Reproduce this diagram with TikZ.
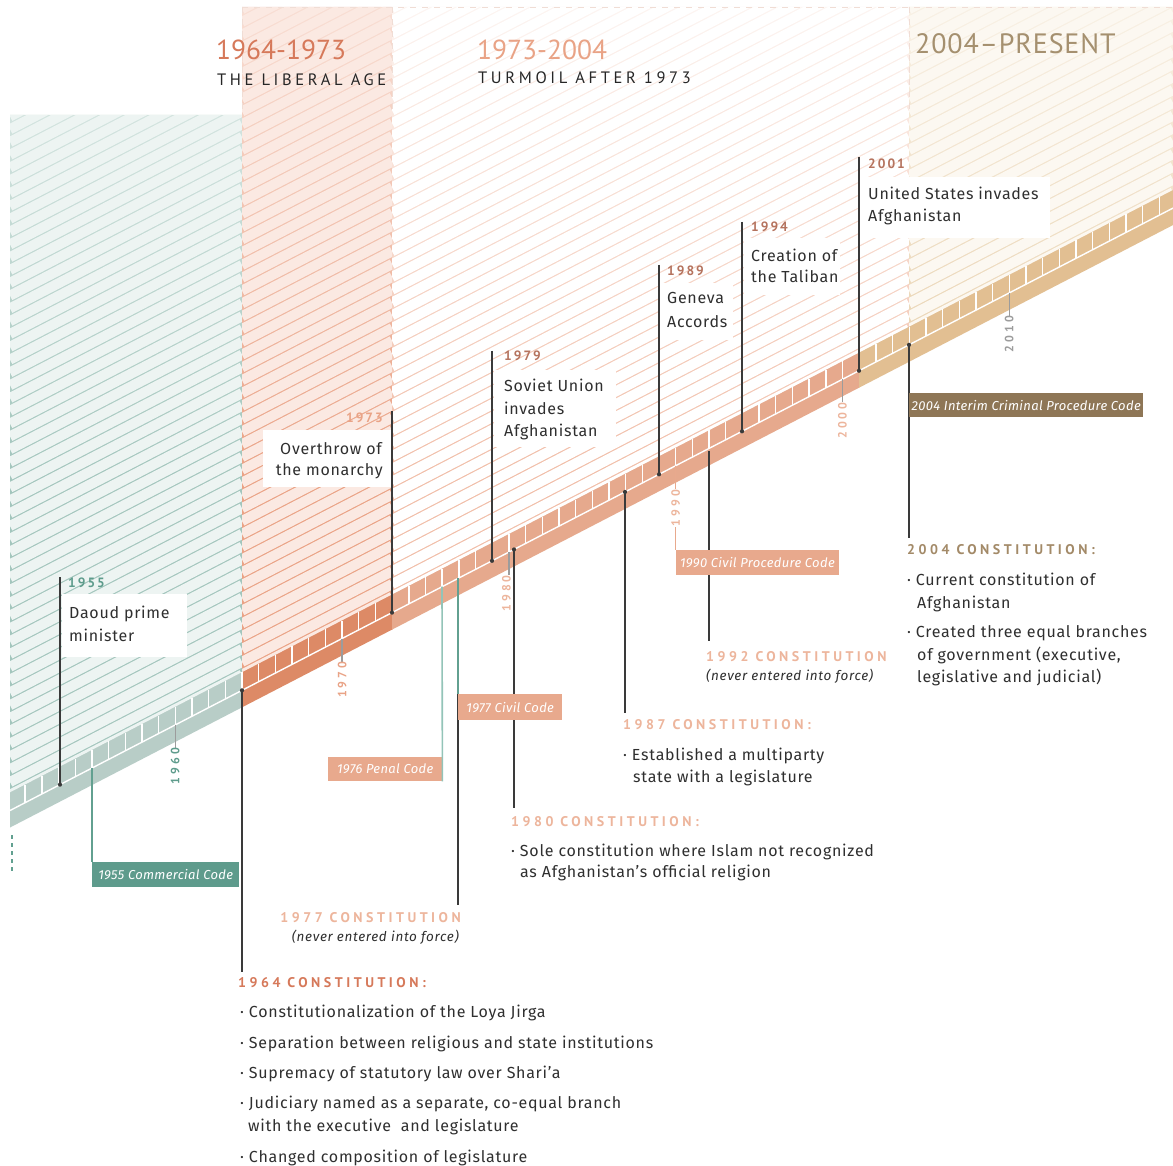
\documentclass[tikz,border=0pt]{standalone}
\usepackage{fontspec}
\setmainfont{PT Sans}
\newfontfamily\fira{Fira Sans}
\definecolor{txt}{HTML}{2F2F2F}
\definecolor{evline}{HTML}{3A3A3A}
\definecolor{tealBand}{HTML}{B8CDC7}
\definecolor{tealBg}{HTML}{EDF4F2}
\definecolor{tealHatch}{HTML}{A3C6BD}
\definecolor{tealBox}{HTML}{5E9B8C}
\definecolor{tealLab}{HTML}{5E9C8C}
\definecolor{tealLine}{HTML}{62A090}
\definecolor{tealLineL}{HTML}{93C4B8}
\definecolor{orBand}{HTML}{DD8A66}
\definecolor{orBg}{HTML}{FBE9E2}
\definecolor{orHatch}{HTML}{EAA285}
\definecolor{salBand}{HTML}{E6A98D}
\definecolor{salHatch}{HTML}{F1BDA7}
\definecolor{salBox}{HTML}{E8A98D}
\definecolor{salLab}{HTML}{EDB59C}
\definecolor{yrBrown}{HTML}{B5735E}
\definecolor{tanBand}{HTML}{E2BF92}
\definecolor{tanBg}{HTML}{FCF8F1}
\definecolor{tanHatch}{HTML}{E5CAA2}
\definecolor{tanBox}{HTML}{8E7656}
\definecolor{tanHead}{HTML}{A38A68}
\definecolor{head1}{HTML}{D6795A}
\definecolor{head2}{HTML}{E9A386}
\definecolor{head3}{HTML}{A5906F}
\definecolor{tickGray}{HTML}{9C9C9C}
\definecolor{dashC}{HTML}{F0DDD5}
\tikzset{
  evl/.style={draw=evline, line width=2pt},
  evdot/.style={circle, fill=evline, inner sep=0pt, minimum size=4.2pt},
  wbox/.style={fill=white, anchor=north west, inner sep=0pt},
  body/.style={anchor=base west, inner sep=0pt, text=txt, font=\fira\fontsize{16}{20}\selectfont\addfontfeature{LetterSpace=4.5}},
  yrlab/.style={anchor=base west, inner sep=0pt, font=\fontsize{13.5}{14}\selectfont\bfseries\addfontfeature{LetterSpace=15}},
  codebox/.style={anchor=north west, inner sep=0pt, text=white, font=\fira\fontsize{13}{13}\selectfont\itshape\addfontfeature{LetterSpace=2.5}},
  chead/.style={anchor=base west, inner sep=0pt, font=\fontsize{14}{15}\selectfont\bfseries\addfontfeature{LetterSpace=25}},
  note/.style={anchor=base west, inner sep=0pt, text=txt, font=\fira\fontsize{13.5}{14}\selectfont\itshape\addfontfeature{LetterSpace=5}},
  ticklab/.style={rotate=90, anchor=east, inner sep=0pt, font=\fontsize{12}{12}\selectfont\bfseries\addfontfeature{LetterSpace=25}},
  tickln/.style={draw=tickGray, line width=1.5pt},
  gapln/.style={line width=10.07pt},
  bigh/.style={anchor=base west, inner sep=0pt, font=\fontsize{27.5}{28}\selectfont},
  subh/.style={anchor=base west, inner sep=0pt, text=black!85, font=\fontsize{16.5}{17}\selectfont\addfontfeature{LetterSpace=22}},
}
% hatched era region: the hatch colour is a vertical shading (background colour at
% the top, hatch colour near the band); wide background-coloured lines leave thin hatch lines.
\newcommand{\hatchregion}[5]{%
  \begin{scope}
    \clip (#1,#3) -- (#2,#3) -- (#2,{yb(#2)-35}) -- (#1,{yb(#1)-35}) -- cycle;
    \fill[#5] (#1,469) rectangle (#2,900);
    \shade[top color=#4, bottom color=#5] (#1,-80) rectangle (#2,470);
    \foreach \hn in {0,...,140}{\draw[#4, gapln] (#1,{12.8*\hn+6.4-0.518*#1}) -- (#2,{12.8*\hn+6.4-0.518*#2});}
  \end{scope}}
\begin{document}
\begin{tikzpicture}[x=1pt,y=-1pt,declare function={yb(\q)=827-0.518*(\q-11);}]
\useasboundingbox (0,0) rectangle (1173,1166);
\fill[white] (0,0) rectangle (1173,1166);

% ---------- hatched era backgrounds ----------
\hatchregion{10}{242}{115}{tealBg}{tealHatch}
\hatchregion{242}{392.1}{7}{orBg}{orHatch}
\hatchregion{392.1}{909}{7}{white}{salHatch}
\hatchregion{909}{1173}{7}{tanBg}{tanHatch}

% faint dashed era boundaries at the top
\coordinate (dA) at (242,7);
\coordinate (dB) at (1173,7);
\coordinate (dC) at (242,115);
\coordinate (dD) at (392,7);
\coordinate (dE) at (392,110);
\coordinate (dF) at (909,7);
\coordinate (dG) at (909,110);
\draw[dashC, line width=0.8pt, dash pattern=on 6pt off 6pt] (dA) -- (dB);
\draw[dashC, line width=0.8pt, dash pattern=on 6pt off 6pt] (dA) -- (dC);
\draw[dashC, line width=0.8pt, dash pattern=on 6pt off 6pt] (dD) -- (dE);
\draw[dashC, line width=0.8pt, dash pattern=on 6pt off 6pt] (dF) -- (dG);

% ---------- the time band ----------
\foreach \xa/\xb/\col in {10/242.5/tealBand,242/392.5/orBand,392.1/859.5/salBand,859/1173/tanBand}{
  \fill[\col] (\xa,{yb(\xa)}) -- (\xb,{yb(\xb)}) -- (\xb,{yb(\xb)-35}) -- (\xa,{yb(\xa)-35}) -- cycle;}
\foreach \k in {-13,...,55}{
  \pgfmathsetmacro{\xx}{242+16.68*\k}
  \draw[white, line width=1.4pt] (\xx,{yb(\xx)-35}) -- (\xx,{yb(\xx)-17});}
\draw[white, line width=1.4pt] (10,{yb(10)-17}) -- (1173,{yb(1173)-17});
\coordinate (lA) at (12,835);
\coordinate (lB) at (12,872);
\draw[tealLine, line width=1.6pt, dash pattern=on 4pt off 4pt] (lA) -- (lB);

% ---------- decade ticks ----------
\foreach \yr/\col/\dx in {1960/tealLab/0,1970/head2/0,1980/salLab/-2.5,2000/salLab/0,2010/tickGray/0}{
  \pgfmathsetmacro{\xx}{242+16.68*(\yr-1964)}
  \coordinate (ta\yr) at (\xx,{yb(\xx)-17});
  \coordinate (tb\yr) at (\xx,{yb(\xx)+6});
  \coordinate (tc\yr) at ({\xx+\dx},{yb(\xx)+6});
  \draw[tickln] (ta\yr) -- (tb\yr);
  \node[ticklab, text=\col] (tl\yr) at (tc\yr) {\yr};
}

% ---------- events above the band ----------
\node[wbox, minimum width=125pt, minimum height=63pt] (bx1955) at (62,594) {};
\node[wbox, minimum width=129pt, minimum height=57pt] (bx1973) at (263,430) {};
\node[wbox, minimum width=122pt, minimum height=77pt] (bx1979) at (494,370) {};
\node[wbox, minimum width=73pt, minimum height=57pt] (bx1989) at (660,283) {};
\node[wbox, minimum width=96pt, minimum height=57pt] (bx1994) at (744,238) {};
\node[wbox, minimum width=190pt, minimum height=61pt] (bx2001) at (860,177) {};

\foreach \nm/\xx/\yt in {1955/60/577, 1973/392/411, 1979/492/351, 1989/659/265, 1994/742/222, 2001/859/157}{
  \coordinate (et\nm) at (\xx,\yt);
  \coordinate (eb\nm) at (\xx,{yb(\xx)-17});
  \draw[evl] (et\nm) -- (eb\nm);
  \node[evdot] (ed\nm) at (eb\nm) {};
}

\node[yrlab, text=tealLab] (y1955) at (68,587.5) {1955};
\node[yrlab, anchor=base east, text=head2] (y1973) at (383,422.5) {1973};
\node[yrlab, text=yrBrown] (y1979) at (504,360.5) {1979};
\node[yrlab, text=yrBrown] (y1989) at (667,275.5) {1989};
\node[yrlab, text=yrBrown] (y1994) at (751,231.5) {1994};
\node[yrlab, text=yrBrown] (y2001) at (868,168.5) {2001};

\node[body] (t1955a) at (69,618) {Daoud prime};
\node[body] (t1955b) at (69,641) {minister};
\node[body, anchor=base east] (t1973a) at (382,454) {Overthrow of};
\node[body, anchor=base east] (t1973b) at (383,475) {the monarchy};
\node[body] (t1979a) at (504,391) {Soviet Union};
\node[body] (t1979b) at (504,414) {invades};
\node[body] (t1979c) at (504,436) {Afghanistan};
\node[body] (t1989a) at (667,304) {Geneva};
\node[body] (t1989b) at (667,327) {Accords};
\node[body] (t1994a) at (751,262) {Creation of};
\node[body] (t1994b) at (751,283) {the Taliban};
\node[body] (t2001a) at (868,200) {United States invades};
\node[body] (t2001b) at (868,222) {Afghanistan};

% ---------- constitution lines below the band ----------
\coordinate (c1964) at (242,{yb(242)-17});
\coordinate (e1964) at (242,972);
\draw[evl] (c1964) -- (e1964);
\node[evdot] (d1964) at (c1964) {};

\coordinate (c1977) at (458,{yb(458)-17});
\coordinate (e1977) at (458,905);
\draw[draw=evline, line width=1.8pt] (c1977) -- (e1977);

\coordinate (c1980) at (514,{yb(514)-17});
\coordinate (e1980) at (514,808);
\draw[evl] (c1980) -- (e1980);
\node[evdot] (d1980) at (c1980) {};

\coordinate (c1987) at (625,{yb(625)-17});
\coordinate (e1987) at (625,713);
\draw[evl] (c1987) -- (e1987);
\node[evdot] (d1987) at (c1987) {};

\coordinate (c1992) at (709,{yb(709)-14});
\coordinate (e1992) at (709,641);
\draw[evl] (c1992) -- (e1992);

\coordinate (c2004) at (909,{yb(909)-17});
\coordinate (e2004) at (909,538);
\draw[evl] (c2004) -- (e2004);
\node[evdot] (d2004) at (c2004) {};

% ---------- law codes ----------
\coordinate (c1955) at (92,{yb(92)-17});
\node[codebox, fill=tealBox, minimum width=147pt, minimum height=25pt] (k1955) at (92,862) {1955 Commercial Code};
\draw[tealLine, line width=1.6pt] (c1955) -- (k1955.north west);

\coordinate (c1976) at (442,{yb(442)-17});
\node[codebox, fill=salBox, minimum width=114pt, minimum height=24pt] (k1976) at (328,757) {1976 Penal Code};
\draw[tealLineL, line width=1.6pt] (c1976) -- (k1976.south east);

\node[codebox, fill=salBox, minimum width=104pt, minimum height=26pt] (k1977) at (458,694) {1977 Civil Code};
\draw[tealLine, line width=1.8pt] (c1977) -- (k1977.north west);

\pgfmathsetmacro{\xn}{242+16.68*26}
\coordinate (c1990) at (\xn,{yb(\xn)-17});
\node[codebox, fill=salBox, minimum width=163pt, minimum height=25pt] (k1990) at (\xn,550) {1990 Civil Procedure Code};
\draw[draw=salBox, line width=1.6pt] (c1990) -- (k1990.north west);
\node[ticklab, text=salLab, fill=white, inner sep=1pt] (tl1990) at (\xn,{yb(\xn)+6}) {1990};

\node[codebox, fill=tanBox, minimum width=234pt, minimum height=24pt] (k2004) at (909,393) {2004 Interim Criminal Procedure Code};

% ---------- constitution texts ----------
\node[chead, text=head1] (h1964) at (238,987) {1964 CONSTITUTION:};
\node[body] (l1964a) at (240,1017) {· Constitutionalization of the Loya Jirga};
\node[body] (l1964b) at (240,1048) {· Separation between religious and state institutions};
\node[body] (l1964c) at (240,1078) {· Supremacy of statutory law over Shari’a};
\node[body] (l1964d) at (240,1108) {· Judiciary named as a separate, co-equal branch};
\node[body] (l1964e) at (248,1131) {with the executive \ and legislature};
\node[body] (l1964f) at (240,1162) {· Changed composition of legislature};

\node[chead, anchor=base east, text=salLab] (h1977) at (461,922) {1977 CONSTITUTION};
\node[note, anchor=base east] (n1977) at (459,941.5) {(never entered into force)};

\node[chead, text=salLab] (h1980) at (511,826) {1980 CONSTITUTION:};
\node[body] (l1980a) at (511,856) {· Sole constitution where Islam not recognized};
\node[body] (l1980b) at (520,877) {as Afghanistan’s official religion};

\node[chead, text=salLab] (h1987) at (623,729) {1987 CONSTITUTION:};
\node[body] (l1987a) at (623,760) {· Established a multiparty};
\node[body] (l1987b) at (633,782) {state with a legislature};

\node[chead, text=salLab] (h1992) at (706,661) {1992 CONSTITUTION};
\node[note] (n1992) at (706,680.5) {(never entered into force)};

\node[chead, text=tanHead] (h2004) at (907,554) {2004 CONSTITUTION:};
\node[body] (l2004a) at (907,585) {· Current constitution of};
\node[body] (l2004b) at (917,608) {Afghanistan};
\node[body] (l2004c) at (907,637) {· Created three equal branches};
\node[body] (l2004d) at (917,660) {of government (executive,};
\node[body] (l2004e) at (917,682) {legislative and judicial)};

% ---------- era headings ----------
\node[bigh, text=head1] (hd1) at (216,59.5) {1964-1973};
\node[subh] (hs1) at (217,85.5) {THE LIBERAL AGE};
\node[bigh, text=head2] (hd2) at (477,59.5) {1973-2004};
\node[subh] (hs2) at (478,83.5) {TURMOIL AFTER 1973};
\node[bigh, text=head3, font=\fontsize{28}{29}\selectfont\addfontfeature{LetterSpace=3}] (hd3) at (915,53.5) {2004–PRESENT};
\end{tikzpicture}
\end{document}
